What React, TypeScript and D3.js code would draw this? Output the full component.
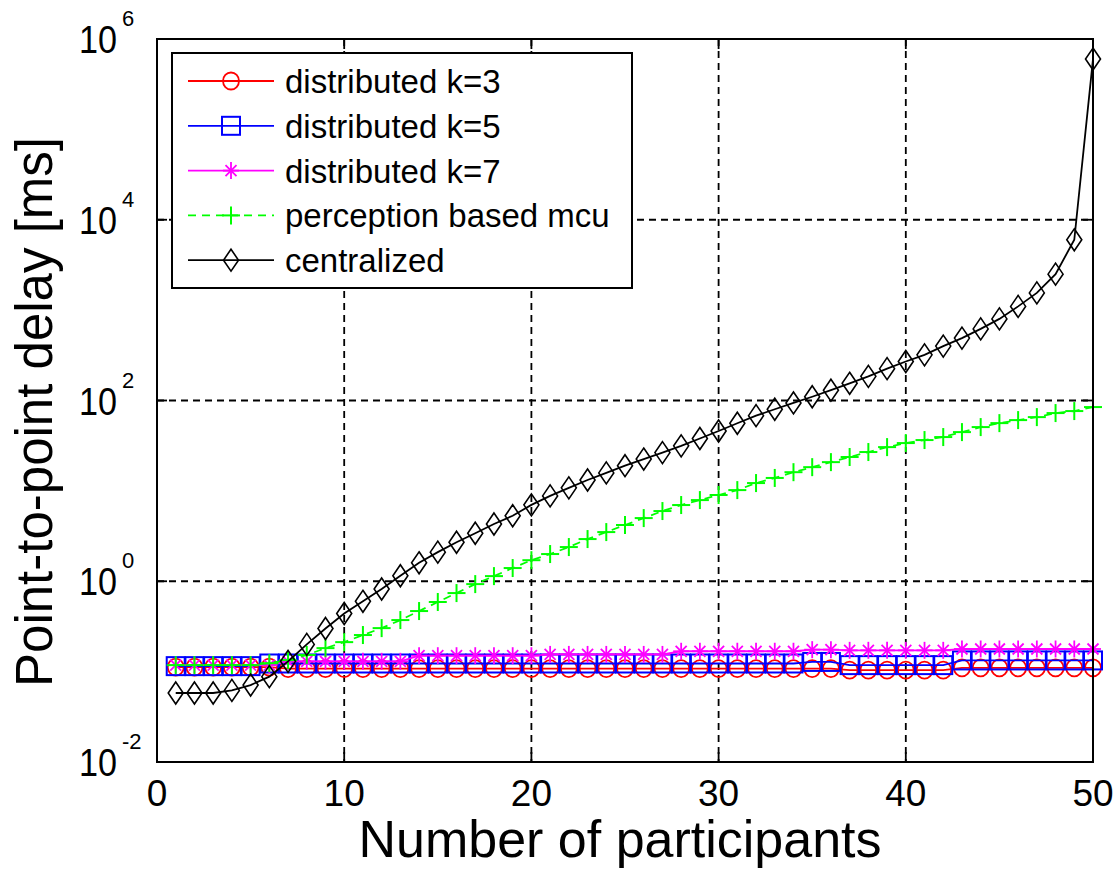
import React from 'react';
import * as d3 from 'd3';

const participants = [1,2,3,4,5,6,7,8,9,10,11,12,13,14,15,16,17,18,19,20,21,22,23,24,25,26,27,28,29,30,31,32,33,34,35,36,37,38,39,40,41,42,43,44,45,46,47,48,49,50];

const distK3 = [0.112,0.112,0.112,0.112,0.112,0.112,
  0.108,0.108,0.108,0.108,0.108,0.108,0.108,0.108,0.108,0.108,0.108,0.108,0.108,0.108,0.108,
  0.108,0.108,0.108,0.108,0.108,0.108,0.108,0.108,0.108,0.108,0.108,0.108,0.108,0.108,0.108,
  0.104,0.104,0.104,0.104,0.104,0.104,
  0.11,0.11,0.11,0.11,0.11,0.11,0.11,0.11];

const distK5 = [0.115,0.115,0.115,0.115,0.115,
  0.123,0.123,0.123,0.123,0.123,0.123,0.123,0.123,0.123,0.123,0.123,0.123,0.123,0.123,0.123,
  0.123,0.123,0.123,0.123,0.123,0.123,0.123,0.123,0.123,0.123,0.123,0.123,0.123,0.123,
  0.128,0.128,
  0.118,0.118,0.118,0.118,0.118,0.118,
  0.133,0.133,0.133,0.133,0.133,0.133,0.133,0.133];

const distK7 = [0.118,0.118,0.118,0.118,0.118,0.118,
  0.13,0.13,0.13,0.13,0.13,0.13,0.13,
  0.15,0.15,0.15,0.15,0.15,0.15,0.15,
  0.155,0.155,0.155,0.155,0.155,0.155,0.155,
  0.168,0.168,0.168,0.168,0.168,0.168,0.168,
  0.175,0.175,
  0.172,0.172,0.172,0.172,0.172,0.172,
  0.178,0.178,0.178,0.178,0.178,0.178,0.178,0.178];

const perceptionMcu = [0.118,0.118,0.118,0.118,0.118,0.124,0.134,0.153,0.182,0.212,
  0.254,0.303,0.372,0.468,0.589,0.74,0.93,1.14,1.40,1.71,
  2.0,2.39,2.93,3.5,4.19,5.0,5.98,6.97,7.91,9.0,
  10.2,12.2,13.9,16.1,18.3,20.8,23.7,26.9,30.5,33.8,
  36.5,39.4,44.7,50.8,56.2,60.7,65.5,72.6,76.4,84.6];

const centralized = [0.058,0.058,0.058,0.062,0.071,0.088,0.13,0.2,0.3,0.44,
  0.6,0.82,1.15,1.6,2.1,2.7,3.4,4.3,5.3,7.0,
  8.8,10.8,13.2,15.8,19,22.5,26.5,31.5,38,46,
  56,68,80,94,110,130,155,185,225,270,
  320,400,490,620,800,1100,1550,2500,6000,600000];

const xTicks = [0, 10, 20, 30, 40, 50];
const yTicks = [1e-2, 1e0, 1e2, 1e4, 1e6];
const xGrid = [10, 20, 30, 40];
const yGrid = [1e0, 1e2, 1e4];

const seriesNames = ['distributed k=3', 'distributed k=5', 'distributed k=7', 'perception based mcu', 'centralized'];
const seriesValues = [distK3, distK5, distK7, perceptionMcu, centralized];
const seriesColors = ['#ff0000', '#0000ff', '#ff00ff', '#00ff00', '#000000'];
const seriesMarkers = ['circle', 'square', 'star', 'plus', 'diamond'];
const seriesDash = [null, null, null, '8,6', null];

const W = 1120, H = 874;
const L = 157, R = 1093, T = 39, B = 762;
const FONT = '"Liberation Sans", Arial, Helvetica, sans-serif';

function Marker({ type, x, y, color }: { type: string; x: number; y: number; color: string }) {
  const sw = 1.8;
  if (type === 'circle') return <ellipse cx={x} cy={y} rx={8} ry={8.5} fill="none" stroke={color} strokeWidth={sw} />;
  if (type === 'square') return <rect x={x - 9} y={y - 9} width={18} height={18} fill="none" stroke={color} strokeWidth={2} />;
  if (type === 'star') return (
    <g stroke={color} strokeWidth={sw}>
      <line x1={x} y1={y - 8.5} x2={x} y2={y + 8.5} />
      <line x1={x - 8} y1={y} x2={x + 8} y2={y} />
      <line x1={x - 5.5} y1={y - 5.5} x2={x + 5.5} y2={y + 5.5} />
      <line x1={x - 5.5} y1={y + 5.5} x2={x + 5.5} y2={y - 5.5} />
    </g>
  );
  if (type === 'plus') return (
    <g stroke={color} strokeWidth={2}>
      <line x1={x} y1={y - 9} x2={x} y2={y + 9} />
      <line x1={x - 9} y1={y} x2={x + 9} y2={y} />
    </g>
  );
  return <path d={`M${x},${y - 11}L${x + 7.5},${y}L${x},${y + 11}L${x - 7.5},${y}Z`} fill="none" stroke={color} strokeWidth={1.6} />;
}

export default function App() {
  const xs = d3.scaleLinear().domain([0, 50]).range([L, R]);
  const ys = d3.scaleLog().domain([1e-2, 1e6]).range([B, T]);
  const line = d3.line<[number, number]>().x(d => xs(d[0])).y(d => ys(d[1]));

  const legX = 172, legY = 53, legW = 460, legH = 235;
  const rowY = (i: number) => 81 + i * 44.8;

  return (
    <svg width={W} height={H} style={{ position: 'absolute', left: 0, top: 0, background: '#fff' }} fontFamily={FONT}>
      <rect x={0} y={0} width={W} height={H} fill="#fff" />
      {/* grid */}
      {xGrid.map(v => (
        <line key={'gx' + v} x1={xs(v)} x2={xs(v)} y1={T} y2={B} stroke="#000" strokeWidth={1.8} strokeDasharray="7,5" />
      ))}
      {yGrid.map(v => (
        <line key={'gy' + v} x1={L} x2={R} y1={ys(v)} y2={ys(v)} stroke="#000" strokeWidth={1.8} strokeDasharray="7,5" />
      ))}
      {/* ticks */}
      {xTicks.map(v => (
        <g key={'xt' + v}>
          <line x1={xs(v)} x2={xs(v)} y1={B} y2={B - 10} stroke="#000" strokeWidth={1.8} />
          <line x1={xs(v)} x2={xs(v)} y1={T} y2={T + 10} stroke="#000" strokeWidth={1.8} />
          <text x={xs(v)} y={806} textAnchor="middle" fontSize={37}>{v}</text>
        </g>
      ))}
      {yTicks.map(v => {
        const e = Math.round(Math.log10(v));
        return (
          <g key={'yt' + v}>
            <line x1={L} x2={L + 10} y1={ys(v)} y2={ys(v)} stroke="#000" strokeWidth={1.8} />
            <line x1={R} x2={R - 10} y1={ys(v)} y2={ys(v)} stroke="#000" strokeWidth={1.8} />
            <text x={79} y={ys(v) + 14} fontSize={39} textLength={38} lengthAdjust="spacingAndGlyphs">10</text>
            <text x={122} y={ys(v) - 13} fontSize={22}>{e < 0 ? '-' + Math.abs(e) : String(e)}</text>
          </g>
        );
      })}
      {/* series */}
      {seriesValues.map((vals, si) => {
        const pts: [number, number][] = participants.map((p, i) => [p, vals[i]]);
        return (
          <g key={'s' + si}>
            <path d={line(pts) || ''} fill="none" stroke={seriesColors[si]} strokeWidth={1.8}
              strokeDasharray={seriesDash[si] || undefined} />
            {pts.map((d, i) => (
              <Marker key={i} type={seriesMarkers[si]} x={xs(d[0])} y={ys(d[1])} color={seriesColors[si]} />
            ))}
          </g>
        );
      })}
      {/* axes box */}
      <rect x={L} y={T} width={R - L} height={B - T} fill="none" stroke="#000" strokeWidth={2} />
      {/* legend */}
      <rect x={legX} y={legY} width={legW} height={legH} fill="#fff" stroke="#000" strokeWidth={2} />
      {seriesNames.map((name, i) => (
        <g key={'lg' + i}>
          <line x1={188} x2={274} y1={rowY(i)} y2={rowY(i)} stroke={seriesColors[i]} strokeWidth={1.8}
            strokeDasharray={seriesDash[i] || undefined} />
          <Marker type={seriesMarkers[i]} x={231} y={rowY(i)} color={seriesColors[i]} />
          <text x={285} y={rowY(i) + 12} fontSize={33}>{name}</text>
        </g>
      ))}
      {/* axis labels */}
      <text x={620} y={857} textAnchor="middle" fontSize={52}>Number of participants</text>
      <text transform={`translate(52,412) rotate(-90)`} textAnchor="middle" fontSize={51}>Point-to-point delay [ms]</text>
    </svg>
  );
}
